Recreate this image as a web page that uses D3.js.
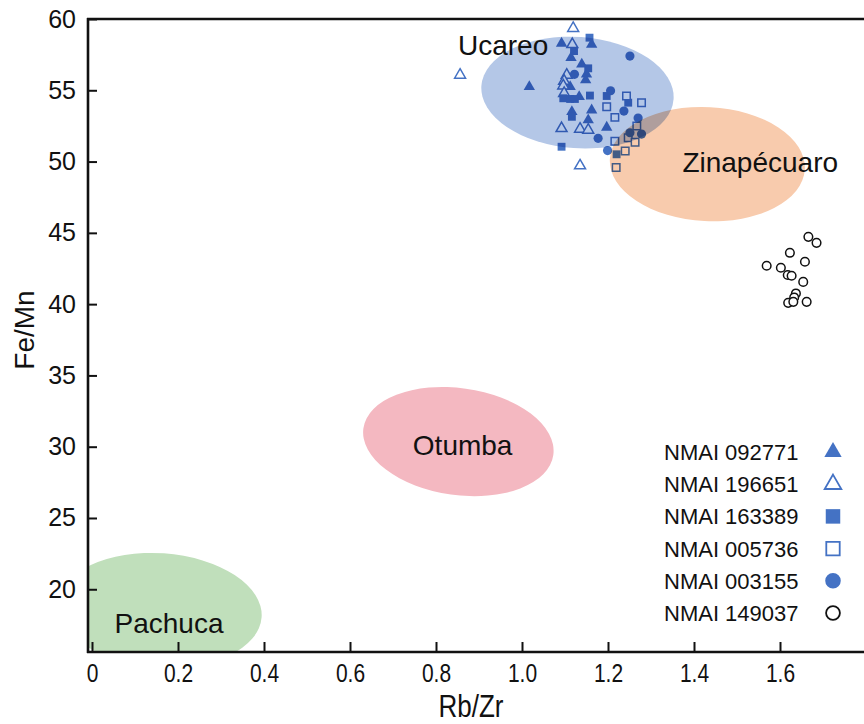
<!DOCTYPE html>
<html>
<head>
<meta charset="utf-8">
<script src="https://cdn.jsdelivr.net/npm/d3@7"></script>
<style>
  html, body { margin: 0; padding: 0; background: #fff; }
  svg { display: block; }
  .sans { font-family: "Liberation Sans", Arial, Helvetica, sans-serif; }
</style>
</head>
<body>
<svg id="chart" width="864" height="724"></svg>
<script>
// ---------------- data ----------------
const xTicks = [0, 0.2, 0.4, 0.6, 0.8, 1.0, 1.2, 1.4, 1.6];
const yTicks = [20, 25, 30, 35, 40, 45, 50, 55, 60];

const seriesNames = ["NMAI 092771", "NMAI 196651", "NMAI 163389", "NMAI 005736", "NMAI 003155", "NMAI 149037"];

// [Rb/Zr, Fe/Mn]
const nmai092771 = [[1.017,55.25],[1.092,58.29],[1.162,58.22],[1.114,57.28],[1.139,56.82],[1.150,56.12],
  [1.148,55.72],[1.112,55.25],[1.133,54.55],[1.162,53.61],[1.116,53.49],[1.154,52.91],[1.197,52.40]];
const nmai196651 = [[1.119,59.35],[0.856,56.07],[1.117,58.22],[1.104,56.07],[1.098,55.65],[1.096,55.32],
  [1.098,54.79],[1.092,52.33],[1.135,52.28],[1.154,52.21],[1.135,49.71]];
const nmai163389 = [[1.157,58.69],[1.121,57.75],[1.154,56.54],[1.158,54.63],[1.096,54.44],[1.112,54.39],
  [1.123,54.39],[1.116,53.14],[1.092,51.04],[1.197,54.60],[1.247,54.13],[1.220,50.51]];
const nmai005736 = [[1.243,54.60],[1.278,54.13],[1.197,53.85],[1.216,53.10],[1.267,52.49],[1.247,51.67],
  [1.263,51.35],[1.216,51.42],[1.240,50.74],[1.219,49.59]];
const nmai003155 = [[1.251,57.40],[1.122,56.12],[1.206,54.97],[1.237,53.54],[1.270,53.05],[1.251,52.02],
  [1.278,51.93],[1.177,51.63],[1.199,50.77]];
const nmai149037 = [[1.666,44.72],[1.685,44.30],[1.623,43.60],[1.658,42.97],[1.569,42.69],[1.602,42.55],
  [1.618,42.04],[1.627,41.99],[1.654,41.56],[1.637,40.75],[1.633,40.47],[1.619,40.09],[1.631,40.16],[1.662,40.16]];

// source fields: name, centre (Rb/Zr, Fe/Mn), semi-axes in data units
const fieldNames = ["Pachuca", "Otumba", "Zinapécuaro", "Ucareo"];
const fieldCenters = [[0.158, 18.53], [0.852, 30.36], [1.431, 49.82], [1.129, 54.84]];
const fieldRadii = [[0.237, 4.0], [0.223, 3.75], [0.227, 4.0], [0.224, 3.9]];

// ---------------- style ----------------
const fieldColors = ["#c0dfbb", "#f4b8c1", "#f8cbad", "#b4c7e7"];
const fieldTilt = [4, 8, 3, 4];
const labelPos = [[0.179, 16.94], [0.862, 29.40], [1.554, 49.30], [0.956, 57.45]];
const blue = "#4472c4";

const svg = d3.select("#chart");
const x = d3.scaleLinear().domain([0, 1.8]).range([92, 866]);
const y = d3.scaleLinear().domain([15.6, 60]).range([652, 19]);
const X0 = 88, X1 = 864;

svg.append("defs").append("clipPath").attr("id", "plotclip")
  .append("rect").attr("x", X0).attr("y", y(60)).attr("width", X1 - X0).attr("height", y(15.6) - y(60));

// one isolated group: markers first, source ellipses multiplied over them
const plot = svg.append("g").attr("clip-path", "url(#plotclip)");
plot.append("rect").attr("x", X0).attr("y", y(60)).attr("width", X1 - X0)
  .attr("height", y(15.6) - y(60)).attr("fill", "#fff");

const series = [
  { data: nmai092771, shape: d3.symbolTriangle, filled: true,  color: blue, size: 56 },
  { data: nmai196651, shape: d3.symbolTriangle, filled: false, color: blue, size: 52 },
  { data: nmai163389, shape: d3.symbolSquare,   filled: true,  color: blue, size: 62 },
  { data: nmai005736, shape: d3.symbolSquare,   filled: false, color: blue, size: 56 },
  { data: nmai003155, shape: d3.symbolCircle,   filled: true,  color: blue, size: 66 },
  { data: nmai149037, shape: d3.symbolCircle,   filled: false, color: "#111", size: 58 }
];

series.forEach(s => {
  plot.selectAll(null).data(s.data).enter().append("path")
    .attr("d", d3.symbol().type(s.shape).size(s.size))
    .attr("transform", d => `translate(${x(d[0])},${y(d[1])})`)
    .attr("fill", s.filled ? s.color : "#fff")
    .attr("stroke", s.color)
    .attr("stroke-width", s.filled ? 0 : 1.5);
});

fieldNames.forEach((n, i) => {
  const cx = x(fieldCenters[i][0]), cy = y(fieldCenters[i][1]);
  const rx = x(fieldRadii[i][0]) - x(0), ry = y(0) - y(fieldRadii[i][1]);
  plot.append("ellipse")
    .attr("cx", cx).attr("cy", cy).attr("rx", rx).attr("ry", ry)
    .attr("transform", `rotate(${fieldTilt[i]},${cx},${cy})`)
    .attr("fill", fieldColors[i])
    .style("mix-blend-mode", "multiply");
});

// field labels
fieldNames.forEach((n, i) => {
  svg.append("text").attr("class", "sans")
    .attr("x", x(labelPos[i][0])).attr("y", y(labelPos[i][1]))
    .attr("text-anchor", "middle")
    .attr("font-size", 28).attr("fill", "#111")
    .text(n);
});

// axes
const xAxis = svg.append("g").attr("transform", `translate(0,${y(15.6)})`)
  .call(d3.axisBottom(x).tickValues(xTicks).tickSize(-10).tickPadding(12)
    .tickFormat(d => d === 0 ? "0" : d3.format(".1f")(d)));
xAxis.select(".domain").remove();
xAxis.selectAll(".tick line").attr("stroke", "#111").attr("stroke-width", 2);
xAxis.selectAll("text").attr("class", "sans").attr("font-size", 25).attr("fill", "#111")
  .attr("transform", "scale(0.84,1)");

const yAxis = svg.append("g").attr("transform", `translate(${X0},0)`)
  .call(d3.axisLeft(y).tickValues(yTicks).tickSize(-9).tickPadding(12));
yAxis.select(".domain").remove();
yAxis.selectAll(".tick line").attr("stroke", "#111").attr("stroke-width", 2);
yAxis.selectAll("text").attr("class", "sans").attr("font-size", 25).attr("fill", "#111");

// frame lines
svg.append("line").attr("x1", X0).attr("x2", X0).attr("y1", y(60) - 1).attr("y2", y(15.6) + 1)
  .attr("stroke", "#111").attr("stroke-width", 2.6);
svg.append("line").attr("x1", X0 - 1).attr("x2", X1).attr("y1", y(15.6)).attr("y2", y(15.6))
  .attr("stroke", "#111").attr("stroke-width", 2.6);
svg.append("line").attr("x1", X0 - 1).attr("x2", X1).attr("y1", y(60)).attr("y2", y(60))
  .attr("stroke", "#111").attr("stroke-width", 2.6);

// axis titles
svg.append("text").attr("class", "sans").attr("transform", "translate(471,717) scale(0.84,1)")
  .attr("text-anchor", "middle").attr("font-size", 31).attr("fill", "#111").text("Rb/Zr");
svg.append("text").attr("class", "sans").attr("transform", "translate(34,330) rotate(-90)")
  .attr("text-anchor", "middle").attr("font-size", 28).attr("fill", "#111").text("Fe/Mn");

// legend
const legendSymbolSizes = [130, 120, 210, 180, 190, 150];
const lg = svg.append("g");
seriesNames.forEach((n, i) => {
  const yy = 452 + i * 32.2;
  lg.append("text").attr("class", "sans").attr("x", 664).attr("y", yy + 8)
    .attr("font-size", 22).attr("fill", "#111").text(n);
  const s = series[i];
  lg.append("path")
    .attr("d", d3.symbol().type(s.shape).size(legendSymbolSizes[i]))
    .attr("transform", `translate(833,${yy})`)
    .attr("fill", s.filled ? s.color : "#fff")
    .attr("stroke", s.color)
    .attr("stroke-width", s.filled ? 0 : 1.8);
});
</script>
</body>
</html>
